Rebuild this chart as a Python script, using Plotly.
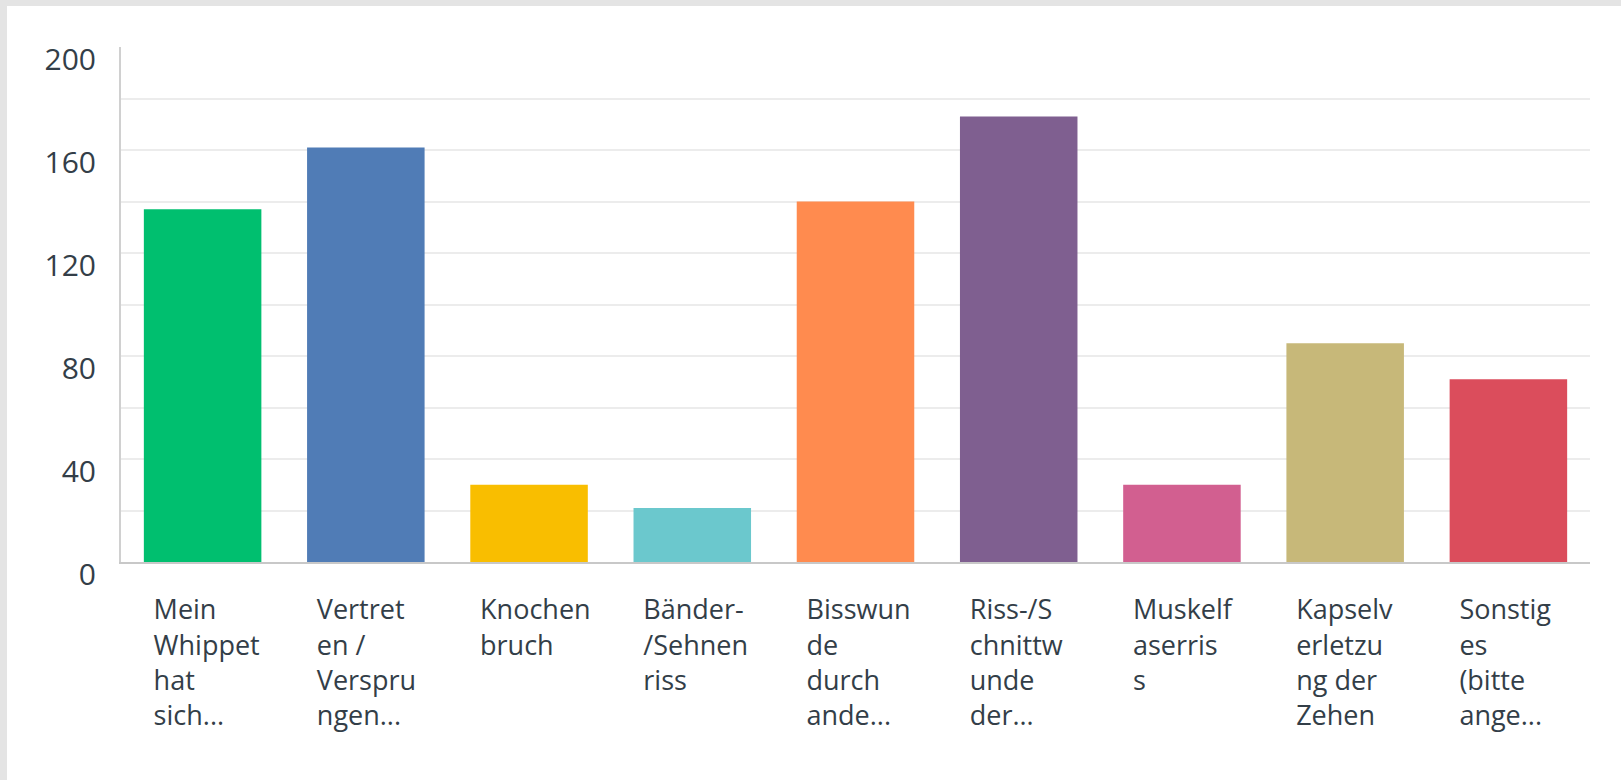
import plotly.graph_objects as go

# Kategorien (wie im Original umbrochen) und Anzahl Antworten
categories = [
    "Mein<br>Whippet<br>hat<br>sich...",
    "Vertret<br>en /<br>Verspru<br>ngen...",
    "Knochen<br>bruch",
    "Bänder-<br>/Sehnen<br>riss",
    "Bisswun<br>de<br>durch<br>ande...",
    "Riss-/S<br>chnittw<br>unde<br>der...",
    "Muskelf<br>aserris<br>s",
    "Kapselv<br>erletzu<br>ng der<br>Zehen",
    "Sonstig<br>es<br>(bitte<br>ange...",
]
counts = [137, 161, 30, 21, 140, 173, 30, 85, 71]
bar_colors = ["#00bf6f", "#507cb6", "#f9be00", "#6bc8cd", "#ff8b4f",
              "#7f5f90", "#d25f90", "#c7b879", "#db4d5c"]

grid_vals = [20, 40, 60, 80, 100, 120, 140, 160, 180]
label_vals = [0, 40, 80, 120, 160, 200]

text_color = "#333e48"
x_pos = list(range(len(categories)))

fig = go.Figure()

fig.add_trace(go.Bar(
    x=x_pos,
    y=counts,
    marker=dict(color=bar_colors, line=dict(width=0)),
    hoverinfo="skip",
))

# invisible helper so the label axis (y2) gets drawn
fig.add_trace(go.Scatter(
    x=x_pos, y=counts, yaxis="y2", mode="none",
    hoverinfo="skip", showlegend=False,
))

# white card on a grey page
fig.add_shape(
    type="rect", xref="paper", yref="paper",
    x0=-0.0776, x1=1.2, y0=-0.6, y1=1.0796,
    fillcolor="white", line=dict(width=0), layer="below",
)

fig.update_layout(
    width=1621, height=780,
    margin=dict(l=121, r=31, t=47, b=218),
    paper_bgcolor="#e4e4e4",
    plot_bgcolor="rgba(0,0,0,0)",
    showlegend=False,
    bargap=0.28,
    font=dict(family="Open Sans", color=text_color),
    xaxis=dict(
        tickmode="array",
        tickvals=x_pos,
        ticktext=categories,
        range=[-0.5, len(categories) - 0.5],
        showgrid=False,
        zeroline=False,
        showline=True,
        linecolor="#c8c8c8",
        linewidth=2,
        ticks="",
        ticklabelposition="outside right",
        ticklabelshift=-50,
        ticklabelstandoff=23,
        tickfont=dict(size=27, color=text_color),
        tickangle=0,
    ),
    yaxis=dict(
        range=[0, 200],
        tickmode="array",
        tickvals=grid_vals,
        showticklabels=False,
        showgrid=True,
        gridcolor="#ececec",
        gridwidth=2,
        zeroline=False,
        showline=True,
        linecolor="#d0d0d0",
        linewidth=2,
        ticks="",
    ),
    yaxis2=dict(
        overlaying="y",
        side="left",
        range=[0, 200],
        tickmode="array",
        tickvals=label_vals,
        showgrid=False,
        zeroline=False,
        showline=False,
        ticks="",
        ticklabelstandoff=24,
        ticklabelshift=12,
        tickfont=dict(size=30, color=text_color),
    ),
)

fig.write_html(
    "out.html",
    config={"displayModeBar": False},
    post_script="document.body.style.margin='0';",
)
